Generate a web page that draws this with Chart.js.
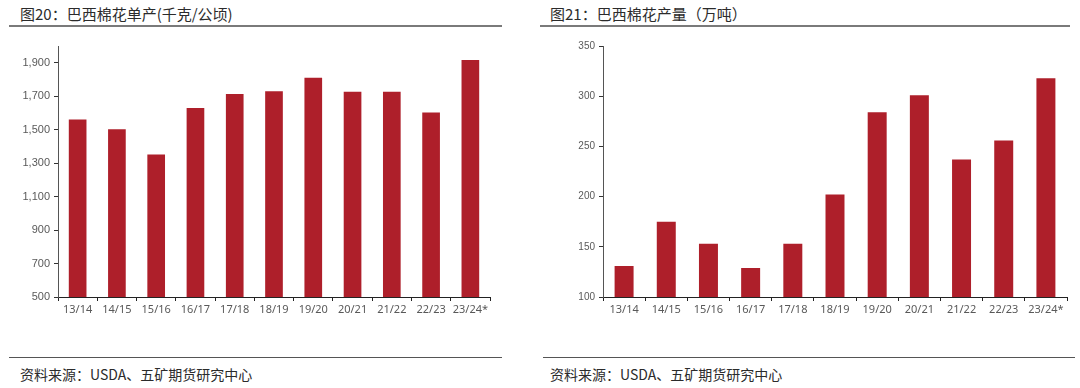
<!DOCTYPE html>
<html>
<head>
<meta charset="utf-8">
<script src="https://cdn.jsdelivr.net/npm/chart.js@4/dist/chart.umd.min.js"></script>
<style>
  body { margin: 0; width: 1080px; height: 388px; background: #fff; position: relative; overflow: hidden;
         font-family: "Noto Sans CJK SC", "Noto Sans", sans-serif; }
  .title { position: absolute; top: 3px; font-size: 15px; color: #2b2b2b; }
  .rule { position: absolute; height: 0; border-top: 2px solid #7a7a7a; }
  .src { position: absolute; top: 364px; font-size: 14px; color: #2b2b2b; }
  .box { position: absolute; top: 30px; height: 300px; }
</style>
</head>
<body>
<div class="title" style="left:20px">图20：巴西棉花单产(千克/公顷)</div>
<div class="title" style="left:550px">图21：巴西棉花产量（万吨）</div>
<div class="rule" style="left:9px; width:493px; top:25px"></div>
<div class="rule" style="left:540px; width:530px; top:25px"></div>
<div class="box" style="left:0; width:510px"><canvas id="yieldChart"></canvas></div>
<div class="box" style="left:540px; width:540px"><canvas id="outputChart"></canvas></div>
<div class="rule" style="left:9px; width:493px; top:357px; border-top-width:1px; border-color:#555"></div>
<div class="rule" style="left:543px; width:532px; top:357px; border-top-width:1px; border-color:#555"></div>
<div class="src" style="left:20px">资料来源：USDA、五矿期货研究中心</div>
<div class="src" style="left:550px">资料来源：USDA、五矿期货研究中心</div>
<script>
// seasons (marketing years)
const seasons = ['13/14', '14/15', '15/16', '16/17', '17/18', '18/19', '19/20', '20/21', '21/22', '22/23', '23/24*'];
// Brazil cotton yield, kg/ha
const yieldValues = [1561, 1502, 1352, 1630, 1713, 1730, 1810, 1727, 1727, 1603, 1916];
// Brazil cotton output, 10k tonnes
const outputValues = [131, 175, 153, 129, 153, 202, 284, 301, 237, 256, 318];
// tick labels
const yieldTicks = [500, 700, 900, 1100, 1300, 1500, 1700, 1900];
const outputTicks = [100, 150, 200, 250, 300, 350];

const barColor = '#AE1F2A';

function makeConfig(values, yMin, yMax, tickList, yWidth, padRight, yFont, fmt) {
    return {
        type: 'bar',
        data: {
            labels: seasons,
            datasets: [{ data: values, backgroundColor: barColor, barPercentage: 0.9, categoryPercentage: 0.5 }]
        },
        options: {
            responsive: true,
            maintainAspectRatio: false,
            animation: false,
            layout: { padding: { top: 16, right: padRight, left: 0, bottom: 0 } },
            plugins: { legend: { display: false }, tooltip: { enabled: false } },
            scales: {
                x: {
                    offset: true,
                    grid: { offset: true, drawOnChartArea: false, drawTicks: true, tickLength: 4, color: '#222' },
                    border: { color: '#222', width: 1 },
                    ticks: { color: '#595959', font: { size: 11, family: 'Noto Sans' }, padding: 2, maxRotation: 0, autoSkip: false },
                    afterFit: s => { s.height = 33; }
                },
                y: {
                    min: yMin, max: yMax,
                    grid: { drawOnChartArea: false, tickLength: 4, color: '#333' },
                    border: { color: '#555', width: 1 },
                    ticks: { color: '#595959', font: { size: yFont, family: 'Liberation Sans' }, padding: 4,
                             callback: v => fmt(v) },
                    afterBuildTicks: s => { s.ticks = tickList.map(v => ({ value: v })); },
                    afterFit: s => { s.width = yWidth; }
                }
            }
        }
    };
}

window.addEventListener('DOMContentLoaded', () => {
    new Chart(document.getElementById('yieldChart'),
        makeConfig(yieldValues, 500, 2000, yieldTicks, 58, 20, 11, v => v.toLocaleString('en-US')));
    new Chart(document.getElementById('outputChart'),
        makeConfig(outputValues, 100, 350, outputTicks, 63, 13, 10, v => String(v)));
});
</script>
</body>
</html>
